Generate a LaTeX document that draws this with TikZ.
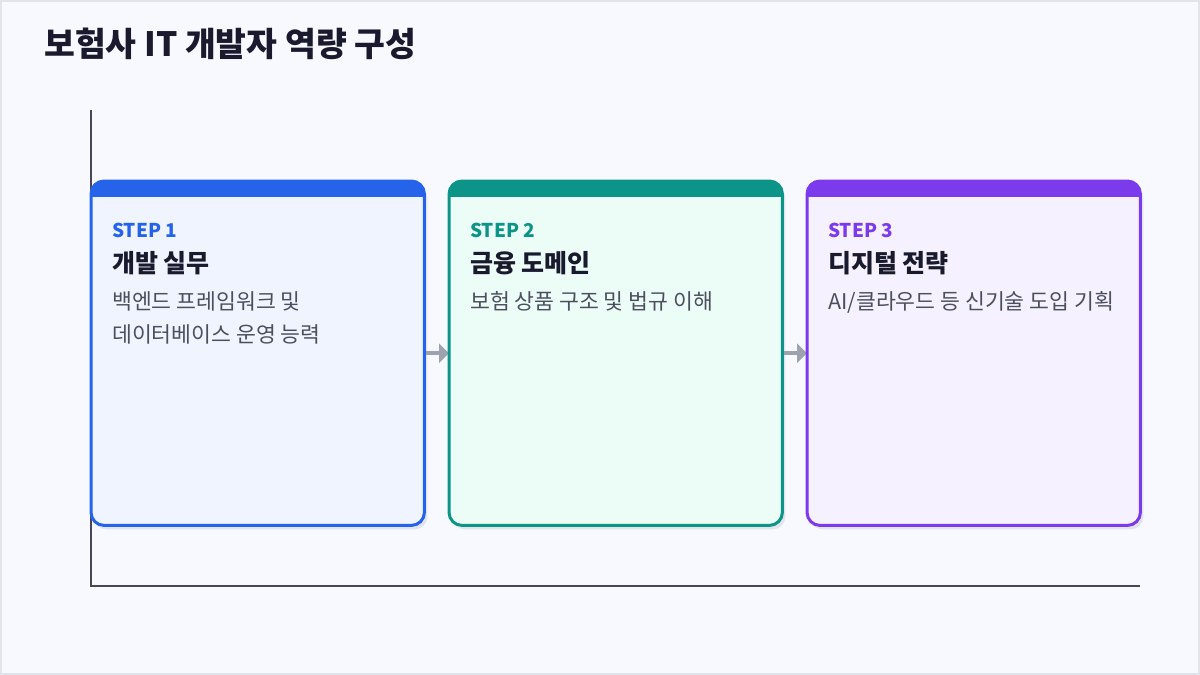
\documentclass[tikz,border=0pt]{standalone}
\usepackage{fontspec}
\setmainfont{Noto Sans CJK KR}
\usetikzlibrary{arrows.meta}
\definecolor{bgc}{HTML}{F8F9FE}
\definecolor{framec}{HTML}{E1E4EA}
\definecolor{titlec}{HTML}{1A1A2E}
\definecolor{descc}{HTML}{4B4F5E}
\definecolor{axisc}{HTML}{474757}
\definecolor{arrowc}{HTML}{9CA3AF}
\definecolor{shadowc}{HTML}{E1E4EC}
\definecolor{bluec}{HTML}{2563EB}
\definecolor{tealc}{HTML}{0D9488}
\definecolor{purplec}{HTML}{7C3AED}
\definecolor{bluefill}{HTML}{EFF4FE}
\definecolor{tealfill}{HTML}{ECFDF7}
\definecolor{purplefill}{HTML}{F5F1FE}
\tikzset{
  cardnode/.style={draw=none, inner sep=0pt, minimum width=333pt, minimum height=344pt, anchor=north west},
  steptext/.style={anchor=west, inner sep=0pt, font=\fontsize{19}{22}\selectfont\bfseries},
  cardtitle/.style={anchor=west, inner sep=0pt, text=titlec, font=\fontsize{25}{29}\selectfont\bfseries},
  cardesc/.style={anchor=north west, inner sep=0pt, text=descc, align=left, font=\fontsize{21.6}{33}\selectfont},
  axisline/.style={draw=axisc, line width=2pt},
  arr/.style={draw=arrowc, line width=4pt, -{Triangle[length=10pt,width=19pt]}},
}
\newcommand\placecard[2]{\node[cardnode] (#1) at (#2,181) {};}
\newcommand\drawshadow[1]{%
  \fill[shadowc, rounded corners=13pt] ([xshift=3pt,yshift=-4pt]#1.south west) rectangle ([xshift=3pt,yshift=-4pt]#1.north east);
}
\newcommand\finishcard[6]{%
  \fill[#3, rounded corners=13pt] (#1.south west) rectangle (#1.north east);
  \begin{scope}
    \clip[rounded corners=13pt] (#1.south west) rectangle (#1.north east);
    \fill[#2] (#1.north west) rectangle ([yshift=-16pt]#1.north east);
  \end{scope}
  \draw[#2, line width=3pt, rounded corners=13pt] (#1.south west) rectangle (#1.north east);
  \node[steptext, text=#2] (#1step) at ([xshift=21pt,yshift=-49pt]#1.north west) {#4};
  \node[cardtitle] (#1title) at ([xshift=21pt,yshift=-82pt]#1.north west) {#5};
  \node[cardesc] (#1desc) at ([xshift=21pt,yshift=-110pt]#1.north west) {#6};
}
\begin{document}
\begin{tikzpicture}[x=1pt,y=-1pt]
\useasboundingbox (0,0) rectangle (1200,675);
\fill[bgc] (0,0) rectangle (1200,675);
\draw[framec, line width=2pt] (1,1) rectangle (1199,674);
\node[anchor=west, inner sep=0pt, text=titlec, font=\fontsize{33.5}{38}\selectfont\bfseries] (title) at (44,44) {보험사 IT 개발자 역량 구성};
\coordinate (ytop) at (91,110);
\coordinate (origin) at (91,586);
\coordinate (xend) at (1140,586);
\draw[axisline] (ytop) -- (origin) -- (xend);
\placecard{c1}{91}
\placecard{c2}{449}
\placecard{c3}{807}
\drawshadow{c1}
\drawshadow{c2}
\drawshadow{c3}
\draw[arr] ([xshift=-4pt]c1.east) -- (c2.west);
\draw[arr] ([xshift=-4pt]c2.east) -- (c3.west);
\finishcard{c1}{bluec}{bluefill}{STEP 1}{개발 실무}{백엔드 프레임워크 및\\데이터베이스 운영 능력}
\finishcard{c2}{tealc}{tealfill}{STEP 2}{금융 도메인}{보험 상품 구조 및 법규 이해}
\finishcard{c3}{purplec}{purplefill}{STEP 3}{디지털 전략}{AI/클라우드 등 신기술 도입 기획}
\end{tikzpicture}
\end{document}
